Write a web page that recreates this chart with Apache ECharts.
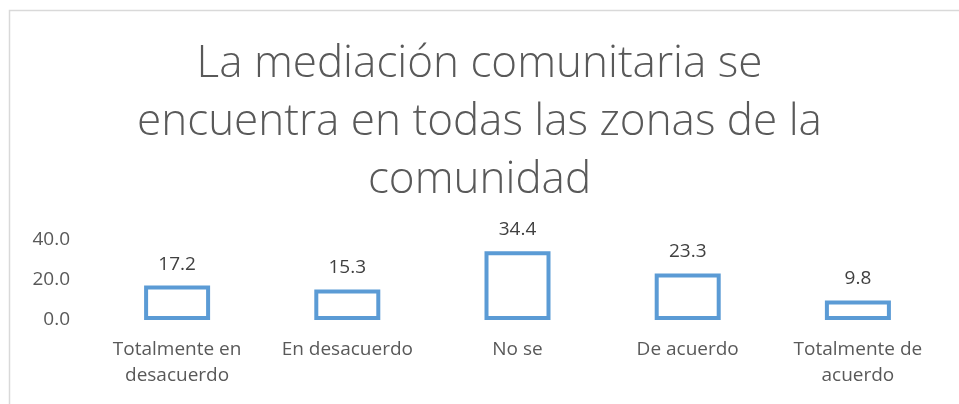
<!DOCTYPE html>
<html>
<head>
<meta charset="utf-8">
<script src="https://cdn.jsdelivr.net/npm/echarts@6/dist/echarts.min.js"></script>
<style>
  html, body { margin: 0; padding: 0; background: #fff; }
  #chart { width: 959px; height: 404px; }
</style>
</head>
<body>
<div id="chart"></div>
<script>
const chartTitle = 'La mediación comunitaria se\nencuentra en todas las zonas de la\ncomunidad';
const categories = [
  'Totalmente en\ndesacuerdo',
  'En desacuerdo',
  'No se',
  'De acuerdo',
  'Totalmente de\nacuerdo'
];
const values = [17.2, 15.3, 34.4, 23.3, 9.8];
const yTicks = [0, 20, 40];

const font = '"Open Sans", "Noto Sans", sans-serif';
const chart = echarts.init(document.getElementById('chart'));

chart.setOption({
  backgroundColor: '#fff',
  animation: false,
  graphic: [{
    type: 'rect',
    shape: {x: 9.5, y: 10.5, width: 960, height: 400},
    style: {fill: 'none', stroke: '#d9d9d9', lineWidth: 1.5},
    silent: true
  }],
  title: {
    text: chartTitle,
    left: 'center',
    top: 30,
    textStyle: {
      fontFamily: font,
      fontSize: 44,
      fontWeight: 300,
      lineHeight: 58,
      color: '#595959'
    }
  },
  grid: {left: 92, right: 16, top: 240, bottom: 84},
  xAxis: {
    type: 'category',
    data: categories,
    axisLine: {show: false},
    axisTick: {show: false},
    axisLabel: {
      fontFamily: font,
      fontSize: 19,
      lineHeight: 26,
      color: '#595959',
      margin: 17,
      interval: 0
    }
  },
  yAxis: {
    type: 'value',
    min: yTicks[0],
    max: yTicks[yTicks.length - 1],
    interval: 20,
    splitLine: {show: false},
    axisLine: {show: false},
    axisTick: {show: false},
    axisLabel: {
      fontFamily: font,
      fontSize: 19,
      color: '#595959',
      margin: 22,
      formatter: v => v.toFixed(1)
    }
  },
  series: [{
    type: 'bar',
    data: values,
    barWidth: 66,
    itemStyle: {
      color: '#fff',
      borderColor: '#5b9bd5',
      borderWidth: 4
    },
    label: {
      show: true,
      position: 'top',
      distance: 12,
      fontFamily: font,
      fontSize: 19,
      color: '#404040',
      formatter: p => p.value.toFixed(1)
    }
  }]
});
</script>
</body>
</html>
